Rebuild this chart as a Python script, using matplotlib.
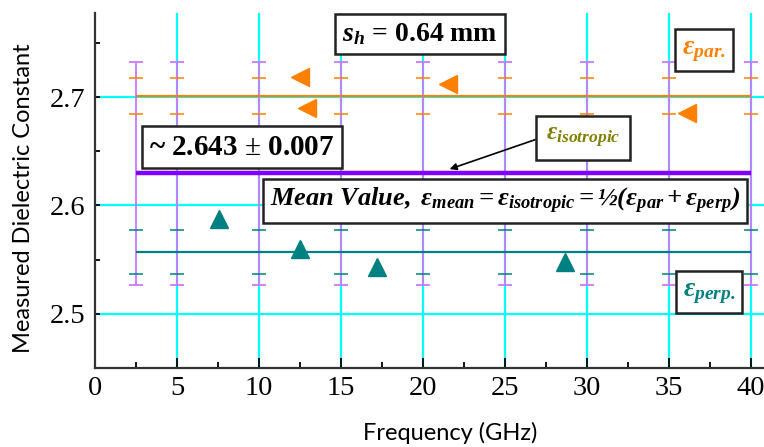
import matplotlib
matplotlib.use('Agg')
import matplotlib.pyplot as plt
from matplotlib.ticker import MultipleLocator

# === DATOS ===
freq_par = [12.49, 12.93, 21.54, 36.1]
eps_par = [2.718, 2.690, 2.712, 2.685]
freq_perp = [7.55, 12.49, 17.22, 28.7]
eps_perp = [2.587, 2.560, 2.543, 2.548]

mean_par = 2.701
mean_perp = 2.557
mean_iso = 2.6295
err_par = 0.0165
err_perp = 0.020
err_iso = 0.1025
bar_freqs = [2.5, 5, 10, 15, 20, 25, 30, 35, 40]

x_ticks = [0, 5, 10, 15, 20, 25, 30, 35, 40]
y_ticks = [2.5, 2.6, 2.7]

# === COLORES ===
C_GRID = '#00ffff'
C_BAR = '#cc77ff'
C_ISO = '#8000ff'
C_PAR = '#ff8000'
C_PERP = '#008080'
C_OLIVE = '#808000'

plt.rcParams['mathtext.fontset'] = 'custom'
plt.rcParams['mathtext.rm'] = 'Liberation Serif'
plt.rcParams['mathtext.it'] = 'Liberation Serif:italic'
plt.rcParams['mathtext.bf'] = 'Liberation Serif:bold'
plt.rcParams['mathtext.bfit'] = 'Liberation Serif:bold:italic'

W, H = 764, 447
fig = plt.figure(figsize=(W / 100, H / 100), dpi=100)
ax = fig.add_axes([95 / W, (H - 368) / H, (W - 95) / W, (368 - 13) / H])

def px(x, y):
    # pixel (desde arriba) -> fraccion de figura
    return x / W, 1 - y / H

# rejilla cian
for xv in x_ticks[1:]:
    ax.axvline(xv, color=C_GRID, lw=1.6, zorder=1)
for yv in y_ticks:
    ax.axhline(yv, color=C_GRID, lw=1.6, zorder=1)

# barras de error
ax.errorbar(bar_freqs, [mean_iso] * len(bar_freqs), yerr=err_iso, fmt='none',
            ecolor=C_BAR, elinewidth=1.3, capsize=5, capthick=1.3, zorder=2)
ax.errorbar(bar_freqs, [mean_par] * len(bar_freqs), yerr=err_par, fmt='none',
            ecolor=C_PAR, elinewidth=0, capsize=5, capthick=1.1, zorder=3)
ax.errorbar(bar_freqs, [mean_perp] * len(bar_freqs), yerr=err_perp, fmt='none',
            ecolor=C_PERP, elinewidth=0, capsize=5, capthick=1.1, zorder=3)

# lineas de valor medio
ax.hlines(mean_par, bar_freqs[0], bar_freqs[-1], color=C_PAR, lw=1.6, zorder=3)
ax.hlines(mean_perp, bar_freqs[0], bar_freqs[-1], color=C_PERP, lw=1.6, zorder=3)
ax.hlines(mean_iso, bar_freqs[0], bar_freqs[-1], color=C_ISO, lw=3.2, zorder=3)

# puntos medidos
ax.plot(freq_par, eps_par, '<', color=C_PAR, ms=13, ls='none', zorder=4)
ax.plot(freq_perp, eps_perp, '^', color=C_PERP, ms=13, ls='none', zorder=4)

ax.set_xlim(0, 40.82)
ax.set_ylim(2.45, 2.7775)
ax.set_xticks(x_ticks)
ax.set_yticks(y_ticks)
ax.xaxis.set_minor_locator(MultipleLocator(2.5))
ax.yaxis.set_minor_locator(MultipleLocator(0.05))
ax.tick_params(axis='x', which='major', direction='in', length=7, width=1.3,
               labelsize=20.5, pad=6)
ax.tick_params(axis='x', which='minor', direction='in', length=4, width=1.3)
ax.tick_params(axis='y', which='both', direction='in', length=3.5, width=1.3,
               labelsize=20.5, pad=7)
for lab in ax.get_xticklabels() + ax.get_yticklabels():
    lab.set_family('Liberation Serif')
for s in ['top', 'right']:
    ax.spines[s].set_visible(False)
for s in ['left', 'bottom']:
    ax.spines[s].set_linewidth(1.6)
    ax.spines[s].set_color('#333333')

fig.text(450 / W, 1 - 433 / H, 'Frequency (GHz)', family='Lato', fontsize=17,
         ha='center', va='center')
fig.text(24 / W, 1 - 198 / H, 'Measured Dielectric Constant', family='Lato',
         fontsize=17, rotation=90, ha='center', va='center')

box = dict(boxstyle='square,pad=0.25', fc='white', ec='#222222', lw=1.8)

fig.text(*px(420, 34), r'$\mathbfit{s_h}$ = 0.64 mm', family='Liberation Serif',
         weight='bold', fontsize=20, ha='center', va='center', bbox=box, zorder=5)
fig.text(*px(242, 147), r'~ 2.643 $\pm$ 0.007', family='Liberation Serif',
         weight='bold', fontsize=21, ha='center', va='center', bbox=box, zorder=5)
fig.text(*px(505, 201),
         r'$\mathbfit{Mean\ Value,\ \varepsilon_{mean}=\varepsilon_{isotropic}=}$'
         r'½$\mathbfit{(\varepsilon_{par}+\varepsilon_{perp})}$',
         family='Liberation Serif', weight='bold', style='italic', fontsize=19,
         ha='center', va='center', bbox=box, zorder=5)
fig.text(*px(583, 138), r'$\mathbfit{\varepsilon_{isotropic}}$', color=C_OLIVE,
         fontsize=18, ha='center', va='center', zorder=5,
         bbox=dict(boxstyle='square,pad=0.4', fc='white', ec='#222222', lw=1.8))
fig.text(*px(704, 50), r'$\mathbfit{\varepsilon_{par.}}$', color=C_PAR,
         fontsize=20, ha='center', va='center', bbox=box, zorder=5)
fig.text(*px(709, 292), r'$\mathbfit{\varepsilon_{perp.}}$', color=C_PERP,
         fontsize=20, ha='center', va='center', bbox=box, zorder=5)

fig.add_artist(matplotlib.patches.FancyArrowPatch(
    px(540, 138), px(447, 170), transform=fig.transFigure,
    arrowstyle='-|>', mutation_scale=10, lw=1.2, color='black', zorder=5))

fig.savefig('out.png', dpi=100)
